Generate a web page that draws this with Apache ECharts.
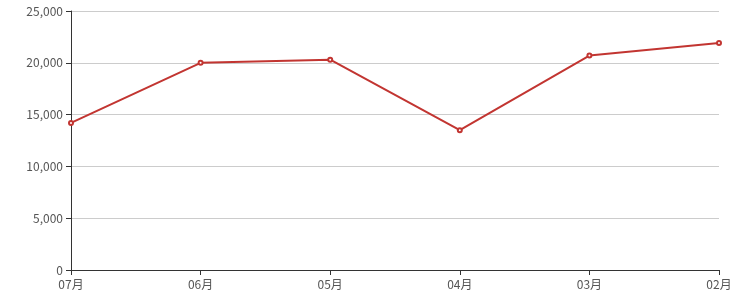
<!DOCTYPE html>
<html>
<head>
<meta charset="utf-8">
<script src="https://cdn.jsdelivr.net/npm/echarts@6/dist/echarts.min.js"></script>
<style>html,body{margin:0;padding:0;background:#fff}#c{width:749px;height:299px}</style>
</head>
<body>
<div id="c"></div>
<script>
var categories = ['07月', '06月', '05月', '04月', '03月', '02月'];
var values = [14200, 20000, 20300, 13500, 20700, 21900];
var yTicks = [0, 5000, 10000, 15000, 20000, 25000];

var chart = echarts.init(document.getElementById('c'));
chart.setOption({
  animation: false,
  grid: { left: 71, right: 30, top: 11, bottom: 29 },
  xAxis: {
    type: 'category',
    data: categories,
    boundaryGap: false,
    axisLine: { lineStyle: { color: '#333' } },
    axisTick: { alignWithLabel: true, lineStyle: { color: '#333' } },
    axisLabel: { color: '#555', fontSize: 12, fontFamily: 'Noto Sans CJK SC, sans-serif', margin: 8 }
  },
  yAxis: {
    type: 'value',
    min: yTicks[0],
    max: yTicks[yTicks.length - 1],
    interval: 5000,
    axisLine: { show: true, lineStyle: { color: '#333' } },
    axisTick: { show: true, lineStyle: { color: '#333' } },
    axisLabel: {
      color: '#555', fontSize: 12, fontFamily: 'Noto Sans CJK SC, sans-serif',
      formatter: function (v) { return v.toLocaleString('en-US'); }
    },
    splitLine: { lineStyle: { color: '#ccc' } }
  },
  series: [{
    type: 'line',
    data: values,
    symbol: 'emptyCircle',
    symbolSize: 4,
    lineStyle: { color: '#c23531', width: 2 },
    itemStyle: { color: '#c23531', borderColor: '#d06a66', borderWidth: 1 }
  }]
});
</script>
</body>
</html>
